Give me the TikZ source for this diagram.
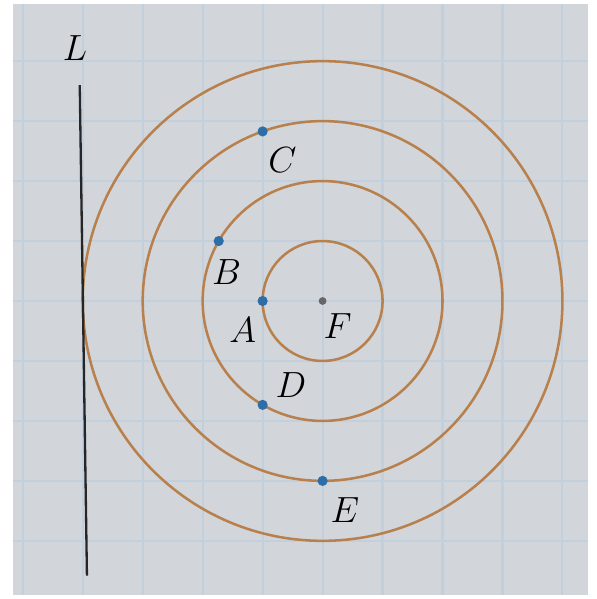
\documentclass[tikz,border=0pt]{standalone}
\usepackage{tikz}
\usetikzlibrary{positioning}
\definecolor{paper}{RGB}{210,214,218}
\definecolor{gridline}{RGB}{194,207,220}
\definecolor{ring}{RGB}{184,128,76}
\definecolor{dotblue}{RGB}{46,110,168}
\tikzset{
  lbl/.style={font=\fontsize{17}{20}\selectfont},
  pt/.style={circle,fill=dotblue,inner sep=0pt,minimum size=0.17cm}
}

\begin{document}
\begin{tikzpicture}
\useasboundingbox[fill=white] (-5.38,-4.97) rectangle (4.57,5.02);
\fill[paper] (-5.17,-4.9) rectangle (4.42,4.95);
% grid
\foreach \x in {-5,...,4} \draw[gridline,line width=1pt] (\x,-4.9) -- (\x,4.95);
\foreach \y in {-4,...,4} \draw[gridline,line width=1pt] (-5.17,\y) -- (4.42,\y);
% circles round F
\foreach \r in {1,2,3,4} \draw[ring,line width=1.2pt] (0,0) circle (\r);
% line L
\coordinate (Ltop) at (-4.05,3.6);
\coordinate (Lbot) at (-3.93,-4.58);
\draw[black!85,line width=1.1pt] (Ltop) -- (Lbot);
\node[lbl] (lblL) at (-4.13,4.22) {$L$};
% points
\node[circle,fill=black!60,inner sep=0pt,minimum size=0.13cm] (F) at (0,0) {};
\node[pt] (A) at (-1,0) {};
\node[pt] (B) at (-1.732,1) {};
\node[pt] (C) at (-1,2.828) {};
\node[pt] (D) at (-1,-1.732) {};
\node[pt] (E) at (0,-3) {};
\node[lbl] (lblA) at (-1.33,-0.48) {$A$};
\node[lbl] (lblB) at (-1.6,0.48) {$B$};
\node[lbl] (lblC) at (-0.67,2.35) {$C$};
\node[lbl] (lblD) at (-0.53,-1.4) {$D$};
\node[lbl] (lblE) at (0.37,-3.48) {$E$};
\node[lbl] (lblF) at (0.25,-0.42) {$F$};
\end{tikzpicture}
\end{document}
